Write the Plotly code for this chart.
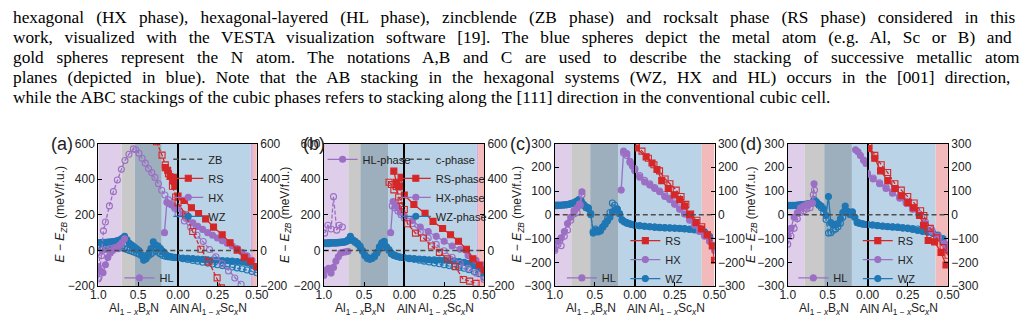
import plotly.graph_objects as go

# ---------------- data ----------------
PARAGRAPH = [
    "hexagonal (HX phase), hexagonal-layered (HL phase), zincblende (ZB phase) and rocksalt phase (RS phase) considered in this",
    "work, visualized with the VESTA visualization software [19]. The blue spheres depict the metal atom (e.g. Al, Sc or B) and",
    "gold spheres represent the N atom. The notations A,B and C are used to describe the stacking of successive metallic atom",
    "planes (depicted in blue). Note that the AB stacking in the hexagonal systems (WZ, HX and HL) occurs in the [001] direction,",
    "while the ABC stackings of the cubic phases refers to stacking along the [111] direction in the conventional cubic cell.",
]
PANEL_LABELS = ["(a)", "(b)", "(c)", "(d)"]
LEGEND_NAMES = [
    dict(ZB="ZB", RS="RS", HX="HX", WZ="WZ", HL="HL"),
    dict(ZB="c-phase", RS="RS-phase", HX="HX-phase", WZ="WZ-phase", HL="HL-phase"),
    dict(ZB=None, RS="RS", HX="HX", WZ="WZ", HL="HL"),
    dict(ZB=None, RS="RS", HX="HX", WZ="WZ", HL="HL"),
]
Y_RANGES = [[-200, 600], [-200, 600], [-300, 300], [-300, 300]]
Y_TICKS = [[-200, 0, 200, 400, 600], [-200, 0, 200, 400, 600],
           [-300, -200, -100, 0, 100, 200, 300], [-300, -200, -100, 0, 100, 200, 300]]
BN_TICKS = [1.0, 0.5, 0.0]
BN_TICKTEXT = ["1.0", "0.5", ""]
SC_TICKS = [0.0, 0.25, 0.5]
SC_TICKTEXT = ["0.00", "0.25", "0.50"]

# phase-region boundaries (left: B content, right: Sc content)
BANDS_L = [[0.706, 0.543, 0.204], [0.696, 0.547, 0.202], [0.793, 0.557, 0.203], [0.788, 0.543, 0.196]]
BANDS_R = [[0.461, 0.475], [0.453, 0.463], [0.42, 0.42], [0.423, 0.423]]

ZB_L_X = [1.0, 0.0]
ZB_R_X = [0.0, 0.5]
ZB_Y = [0, 0]

BN_X = [1.00, 0.97, 0.94, 0.91, 0.88, 0.85, 0.82, 0.79, 0.76, 0.73, 0.70, 0.67,
        0.64, 0.61, 0.58, 0.55, 0.52, 0.49, 0.46, 0.43, 0.40, 0.37, 0.34, 0.31,
        0.28, 0.25, 0.22, 0.19, 0.16, 0.13, 0.10, 0.07, 0.04, 0.00]
SC_X = [0.0, 0.031, 0.062, 0.094, 0.125, 0.156, 0.188, 0.219, 0.25, 0.281,
        0.312, 0.344, 0.375, 0.406, 0.438, 0.469, 0.5]

# ---- panel (a)
A_WZ_L = [45, 44, 45, 46, 47, 48, 50, 52, 55, 60, 68, 79, 60, 40, 30, 20, 10, 0, -29, -55, -47, -20,
          10, 48, 30, 25, 10, -5, -20, -30, -34, -37, -39, -41]
A_WZO_L = [30, 20, 15, 12, 10, 10, 12, 15, 18, 20, 15, 10, 5, 0, -5, -10, -15, -20, -25, -30, -35, -30,
           -20, -10, 0, -10, -20, -28, -32, -35, -37, -38, -40, -41]
A_WZ_R = [-41, -42, -44, -46, -48, -50, -52, -54, -55, -57, -58, -60, -62, -65, -70, -80, -95]
A_WZO_R = [-41, -46, -51, -56, -61, -66, -71, -76, -80, -85, -89, -93, -98, -103, -110, -118, -125]
A_HX_L_X = [0.17, 0.14, 0.11, 0.08, 0.05, 0.02, 0.0]
A_HX_L = [100, 270, 262, 255, 248, 240, 235]
A_HX_R = [235, 205, 175, 155, 135, 118, 100, 85, 70, 55, 40, 25, 10, -10, -30, -55, -90]
A_HXO_L_X = [0.99, 0.96, 0.935, 0.91, 0.86, 0.81, 0.76, 0.71, 0.665, 0.615, 0.56, 0.53, 0.49,
             0.45, 0.41, 0.37, 0.33, 0.29, 0.245, 0.205, 0.165, 0.12, 0.08, 0.04, 0.0]
A_HXO_L = [-150, -30, 110, 160, 250, 330, 395, 455, 505, 540, 570, 565, 545, 517, 490, 460, 437,
           410, 374, 338, 311, 284, 258, 235, 205]
A_HXO_R_X = [0.0, 0.04, 0.08, 0.12, 0.16, 0.2, 0.24, 0.28, 0.32, 0.36, 0.4]
A_HXO_R = [205, 165, 130, 85, 50, 5, -35, -75, -115, -155, -190]
A_RS_L_X = [0.16, 0.13, 0.10, 0.07, 0.04, 0.02, 0.0]
A_RS_L = [465, 450, 415, 390, 360, 410, 305]
A_RS_R_X = [0.0, 0.04, 0.085, 0.13, 0.175, 0.225, 0.28, 0.33, 0.375, 0.42, 0.46, 0.5]
A_RS_R = [305, 280, 240, 207, 177, 131, 88, 43, 2, -38, -61, -90]
A_RSO_L_X = [0.27, 0.2, 0.16, 0.12, 0.07, 0.03, 0.0]
A_RSO_L = [610, 535, 480, 430, 360, 300, 267]
A_RSO_R_X = [0.0, 0.048, 0.093, 0.145, 0.196, 0.248, 0.275]
A_RSO_R = [267, 199, 106, 7, -64, -154, -210]
A_HL_X = [1.0, 0.97, 0.94, 0.91, 0.88, 0.85, 0.82, 0.79, 0.76, 0.73, 0.70, 0.67]
A_HL = [-90, -115, -125, -80, -40, -15, 0, 10, 20, 30, 45, 65]
A_HLO_X = [1.0, 0.98, 0.95, 0.9, 0.85, 0.8, 0.75]
A_HLO = [-160, -10, 0, 5, 10, 15, 10]

# ---- panel (b)
B_WZ_L = [43, 43, 44, 44, 45, 45, 46, 47, 48, 50, 60, 79, 60, 52, 40, 25, 0, -25, -38, -46, -41, -30,
          -10, 20, 43, 52, 16, 0, -20, -28, -33, -36, -39, -41]
B_WZO_L = [38, 38, 38, 40, 40, 40, 42, 44, 45, 48, 55, 65, 55, 45, 35, 20, -5, -30, -45, -50, -45, -35,
           -15, 10, 30, 40, 20, 5, -15, -25, -30, -35, -38, -41]
B_WZ_R = [-41, -44, -46, -48, -50, -52, -53, -54, -55, -57, -58, -62, -66, -72, -85, -100, -125]
B_WZO_R = [-41, -46, -50, -55, -60, -65, -70, -75, -80, -85, -90, -95, -100, -108, -118, -130, -150]
B_HL_X = [1.0, 0.97, 0.94, 0.91, 0.88, 0.85, 0.82, 0.79, 0.76, 0.73, 0.70]
B_HL = [-140, -110, -100, -127, -95, -60, -35, -15, -10, -8, -5]
B_HLO_X = [0.99, 0.95, 0.91, 0.88, 0.84, 0.81, 0.77]
B_HLO = [97, 141, 120, 302, 114, 141, 132]
B_RS_L_X = [0.13, 0.10, 0.07, 0.04, 0.02, 0.0]
B_RS_L = [445, 383, 356, 410, 360, 311]
B_RS_R_X = [0.0, 0.06, 0.13, 0.18, 0.24, 0.29, 0.34, 0.39, 0.43, 0.47, 0.5]
B_RS_R = [311, 258, 208, 163, 123, 88, 52, 7, -47, -82, -110]
B_RSO_L_X = [0.19, 0.16, 0.13, 0.10, 0.07, 0.04, 0.02, 0.0]
B_RSO_L = [383, 370, 340, 360, 300, 280, 250, 230]
B_RSO_R_X = [0.0, 0.02, 0.07, 0.12, 0.17, 0.22, 0.27, 0.32, 0.37, 0.41, 0.45]
B_RSO_R = [230, 150, 97, 70, 25, -11, -47, -91, -163, -172, -185]
B_HX_L_X = [0.17, 0.14, 0.11, 0.08, 0.05, 0.0]
B_HX_L = [100, 275, 255, 240, 215, 195]
B_HX_R_X = [0.0, 0.05, 0.1, 0.15, 0.2, 0.25, 0.3, 0.35, 0.4, 0.45, 0.5]
B_HX_R = [195, 168, 132, 106, 79, 52, 25, 7, -29, -55, -82]
B_HXO_L_X = [0.15, 0.12, 0.08, 0.04, 0.0]
B_HXO_L = [250, 240, 222, 200, 180]
B_HXO_R = [180, 150, 105, 70, 34, -2, -38, -73, -100, -127, -163]

# ---- panel (c)
C_WZ_L = [41, 41, 41, 41, 42, 43, 45, 48, 52, 57, 64, 60, 44, 35, 30, 5, -77, -65, -72, -68, -52, -40,
          -25, -10, 12, 20, 23, 3, -23, -30, -35, -38, -41, -44]
C_WZO_L = [38, 38, 39, 40, 41, 42, 44, 46, 50, 55, 60, 55, 40, 30, 25, 0, -70, -60, -68, -65, -50, -35,
           -15, 10, 50, 40, 25, 5, -20, -28, -33, -37, -40, -44]
C_WZ_R = [-44, -46, -48, -50, -52, -53, -54, -55, -56, -57, -58, -60, -62, -65, -72, -90, -130]
C_WZO_R = [-44, -46, -48, -50, -52, -54, -55, -56, -57, -58, -60, -62, -64, -68, -75, -95, -135]
C_HL_X = [1.0, 0.96, 0.92, 0.88, 0.84, 0.8, 0.76, 0.72, 0.69, 0.66]
C_HL = [-144, -110, -97, -70, -37, -10, 17, 30, 45, 97]
C_HLO_X = [1.0, 0.96, 0.92, 0.88, 0.84, 0.8, 0.76, 0.72, 0.68, 0.66]
C_HLO = [-150, -125, -130, -90, -64, -23, 3, 10, 40, 84]
C_HX_L_X = [0.17, 0.14, 0.10, 0.06, 0.03, 0.0]
C_HX_L = [104, 268, 258, 225, 210, 191]
C_HXO_L_X = [0.14, 0.10, 0.06, 0.03, 0.0]
C_HXO_L = [260, 250, 220, 205, 185]
C_HX_R = [191, 158, 138, 125, 111, 97, 77, 64, 44, 23, 3, -23, -44, -70, -90, -111, -150]
C_HXO_R = [195, 165, 145, 130, 115, 100, 85, 70, 50, 30, 10, -15, -40, -60, -85, -110, -140]
C_RS_X = [0.01, 0.071, 0.108, 0.139, 0.169, 0.21, 0.247, 0.282, 0.312, 0.343, 0.384, 0.418, 0.455, 0.486, 0.5]
C_RS = [281, 244, 218, 191, 144, 111, 84, 64, 37, 0, -33, -60, -84, -131, -191]
C_RSO_X = [0.01, 0.045, 0.085, 0.12, 0.155, 0.19, 0.22, 0.26, 0.29, 0.32, 0.35, 0.39, 0.42, 0.455, 0.485]
C_RSO = [289, 268, 238, 211, 185, 151, 131, 104, 77, 44, 3, -23, -50, -84, -111]

# ---- panel (d)
D_WZ_L = [40, 40, 40, 40, 41, 42, 43, 44, 45, 47, 50, 64, 55, 44, 37, 25, -3, 77, -33, -44, -40, -37,
          -17, 10, 37, 15, 3, 13, -10, -33, -36, -38, -40, -41]
D_WZO_L = [38, 38, 38, 39, 40, 41, 42, 43, 44, 46, 48, 60, 50, 40, 30, 10, -20, -77, -75, -65, -60, -50,
           -35, -10, 20, 10, 0, 10, -10, -30, -35, -38, -40, -41]
D_WZ_R = [-41, -43, -45, -47, -49, -50, -52, -55, -58, -62, -66, -70, -73, -77, -85, -100, -140]
D_WZO_R = [-41, -43, -46, -48, -50, -52, -53, -55, -56, -58, -60, -63, -70, -78, -90, -110, -145]
D_HL_X = [1.0, 0.96, 0.92, 0.88, 0.84, 0.8, 0.76, 0.72, 0.69, 0.67]
D_HL = [-84, -57, -10, 10, 30, 37, 44, 47, 50, 131]
D_HLO_X = [1.0, 0.96, 0.92, 0.88, 0.84, 0.8, 0.76, 0.72, 0.68, 0.665]
D_HLO = [-124, -90, -57, -17, 10, 17, 25, 30, 84, 104]
D_HX_L_X = [0.15, 0.12, 0.09, 0.05, 0.02]
D_HX_L = [274, 265, 250, 230, 216]
D_HX_R_X = [0.0, 0.035, 0.075, 0.115, 0.155, 0.2, 0.24, 0.28, 0.32, 0.36, 0.4, 0.44, 0.48, 0.5]
D_HX_R = [171, 151, 131, 111, 91, 70, 50, 23, -3, -37, -70, -97, -124, -150]
D_HXO_R = [175, 155, 135, 117, 97, 77, 57, 30, 5, -30, -63, -90, -120, -140]
D_RS_X = [0.008, 0.045, 0.081, 0.126, 0.17, 0.21, 0.251, 0.287, 0.324, 0.348, 0.377, 0.417, 0.457, 0.488]
D_RS = [279, 238, 185, 144, 111, 80, 50, 30, -3, -44, -108, -114, -158, -211]
D_RSO_X = [0.008, 0.045, 0.085, 0.125, 0.17, 0.21, 0.25, 0.29, 0.33, 0.35, 0.39, 0.43, 0.47, 0.5]
D_RSO = [289, 250, 211, 178, 131, 104, 77, 50, 17, -3, -57, -97, -138, -170]

# series per panel: (phase, side, filled, x, y)
PANELS = [
    [("WZ", "L", True, BN_X, A_WZ_L), ("WZ", "L", False, BN_X, A_WZO_L),
     ("WZ", "R", True, SC_X, A_WZ_R), ("WZ", "R", False, SC_X, A_WZO_R),
     ("HX", "L", False, A_HXO_L_X, A_HXO_L), ("HX", "R", False, A_HXO_R_X, A_HXO_R),
     ("HX", "L", True, A_HX_L_X, A_HX_L), ("HX", "R", True, SC_X, A_HX_R),
     ("HL", "L", False, A_HLO_X, A_HLO), ("HL", "L", True, A_HL_X, A_HL),
     ("RS", "L", False, A_RSO_L_X, A_RSO_L), ("RS", "R", False, A_RSO_R_X, A_RSO_R),
     ("RS", "L", True, A_RS_L_X, A_RS_L), ("RS", "R", True, A_RS_R_X, A_RS_R)],
    [("WZ", "L", True, BN_X, B_WZ_L), ("WZ", "L", False, BN_X, B_WZO_L),
     ("WZ", "R", True, SC_X, B_WZ_R), ("WZ", "R", False, SC_X, B_WZO_R),
     ("HX", "L", False, B_HXO_L_X, B_HXO_L), ("HX", "R", False, B_HX_R_X, B_HXO_R),
     ("HX", "L", True, B_HX_L_X, B_HX_L), ("HX", "R", True, B_HX_R_X, B_HX_R),
     ("HL", "L", False, B_HLO_X, B_HLO), ("HL", "L", True, B_HL_X, B_HL),
     ("RS", "L", False, B_RSO_L_X, B_RSO_L), ("RS", "R", False, B_RSO_R_X, B_RSO_R),
     ("RS", "L", True, B_RS_L_X, B_RS_L), ("RS", "R", True, B_RS_R_X, B_RS_R)],
    [("WZ", "L", True, BN_X, C_WZ_L), ("WZ", "L", False, BN_X, C_WZO_L),
     ("WZ", "R", True, SC_X, C_WZ_R), ("WZ", "R", False, SC_X, C_WZO_R),
     ("HX", "L", False, C_HXO_L_X, C_HXO_L), ("HX", "R", False, SC_X, C_HXO_R),
     ("HX", "L", True, C_HX_L_X, C_HX_L), ("HX", "R", True, SC_X, C_HX_R),
     ("HL", "L", False, C_HLO_X, C_HLO), ("HL", "L", True, C_HL_X, C_HL),
     ("RS", "R", False, C_RSO_X, C_RSO), ("RS", "R", True, C_RS_X, C_RS)],
    [("WZ", "L", True, BN_X, D_WZ_L), ("WZ", "L", False, BN_X, D_WZO_L),
     ("WZ", "R", True, SC_X, D_WZ_R), ("WZ", "R", False, SC_X, D_WZO_R),
     ("HX", "R", False, D_HX_R_X, D_HXO_R),
     ("HX", "L", True, D_HX_L_X, D_HX_L), ("HX", "R", True, D_HX_R_X, D_HX_R),
     ("HL", "L", False, D_HLO_X, D_HLO), ("HL", "L", True, D_HL_X, D_HL),
     ("RS", "R", False, D_RSO_X, D_RSO), ("RS", "R", True, D_RS_X, D_RS)],
]

# ---------------- styling / layout ----------------
W, H = 1028, 324
SANS = "Liberation Sans, Arial, sans-serif"
SERIF = "Liberation Serif, Times New Roman, serif"
TEXT_SIZE = 17.3
WORD_SPACING = [7.8, 7.35, 8.4, 5.95, 0.0]   # px, emulating justified lines
TEXT_Y = [10.5, 31.5, 52.5, 73.5, 94.5]
COL = dict(RS="#d62728", HX="#9b6fc4", WZ="#1f77b4", HL="#9b6fc4")
SYM = dict(RS="square", HX="circle", WZ="circle", HL="circle")
BAND_COL_L = ["rgb(222,206,233)", "rgb(201,201,201)", "rgb(157,174,188)", "rgb(186,211,230)"]
BAND_COL_R = ["rgb(186,211,230)", "rgb(205,175,225)", "rgb(242,186,186)"]

P_LEFT = [88.3, 319.3, 555.7, 794.3]
P_MID = [170.0, 401.7, 637.7, 876.0]
P_RIGHT = [250.7, 483.3, 719.3, 958.3]
P_TOP, P_BOT = 142.7, 291.7
YDOM = [1 - P_BOT / H, 1 - P_TOP / H]

# legend boxes (left px, top px) for main and HL legends
LEG_MAIN = [(160, 144), (393, 144), (628, 229), (866, 229)]
LEG_HL = [(110, 268), (318, 144), (563, 268), (800, 268)]
YTITLE_X = [50, 280, 518, 757]
PLABEL_X = [51, 309, 521, 757]
XTITLE_Y = 316


def axname(kind, n):
    return kind if n == 1 else f"{kind}{n}"


def note(text, x, y, size, family=SANS, **kw):
    return dict(text=text, xref="paper", yref="paper", x=x / W, y=1 - y / H, showarrow=False,
                xanchor=kw.pop("xanchor", "center"), yanchor=kw.pop("yanchor", "middle"),
                font=dict(family=family, size=size, color=kw.pop("color", "#222")), **kw)


fig = go.Figure()
layout = dict(width=W, height=H, margin=dict(l=0, r=0, t=0, b=0),
              paper_bgcolor="white", plot_bgcolor="rgba(0,0,0,0)",
              showlegend=True, font=dict(family=SANS, size=12, color="#222"))
shapes, annotations = [], []

for i in range(4):
    nl, nr = 2 * i + 1, 2 * i + 2
    xl, xr, yl, yr = axname("x", nl), axname("x", nr), axname("y", nl), axname("y", nr)
    common = dict(showline=True, linecolor="black", linewidth=1, mirror=True, ticks="inside",
                  ticklen=4, tickcolor="black", showgrid=False, zeroline=False,
                  tickfont=dict(family=SANS, size=12, color="#222"))
    xcommon = dict(common, ticklabelstandoff=-2)
    layout[axname("xaxis", nl)] = dict(xcommon, domain=[P_LEFT[i] / W, P_MID[i] / W], range=[1.0, 0.0],
                                       anchor=yl, tickvals=BN_TICKS, ticktext=BN_TICKTEXT)
    layout[axname("xaxis", nr)] = dict(xcommon, domain=[P_MID[i] / W, P_RIGHT[i] / W], range=[0.0, 0.5],
                                       anchor=yr, tickvals=SC_TICKS, ticktext=SC_TICKTEXT)
    layout[axname("yaxis", nl)] = dict(common, domain=YDOM, range=Y_RANGES[i], anchor=xl, side="left",
                                       tickvals=Y_TICKS[i])
    layout[axname("yaxis", nr)] = dict(common, domain=YDOM, range=Y_RANGES[i], anchor=xr, side="right",
                                       tickvals=Y_TICKS[i])

    # background phase regions
    bl = [1.0] + BANDS_L[i] + [0.0]
    for k in range(4):
        shapes.append(dict(type="rect", xref=xl, yref=f"{yl} domain", x0=bl[k], x1=bl[k + 1], y0=0, y1=1,
                           fillcolor=BAND_COL_L[k], line=dict(width=0), layer="below"))
    br = [0.0] + BANDS_R[i] + [0.5]
    for k in range(3):
        shapes.append(dict(type="rect", xref=xr, yref=f"{yr} domain", x0=br[k], x1=br[k + 1], y0=0, y1=1,
                           fillcolor=BAND_COL_R[k], line=dict(width=0), layer="below"))

    main_leg = "legend" if i == 0 else f"legend{2 * i + 1}"
    hl_leg = f"legend{2 * i + 2}"
    names = LEGEND_NAMES[i]
    shown = set()
    for phase, side, filled, xs, ys in PANELS[i]:
        show = filled and phase not in shown and names[phase] is not None
        if show:
            shown.add(phase)
        fig.add_trace(go.Scatter(
            x=xs, y=ys, xaxis=xl if side == "L" else xr, yaxis=yl if side == "L" else yr,
            mode="lines+markers",
            line=dict(color=COL[phase], width=1.3, dash="solid" if filled else "4px,2px"),
            marker=dict(symbol=SYM[phase] if filled else SYM[phase] + "-open", size=6,
                        color=COL[phase], line=dict(width=1.1, color=COL[phase])),
            name=names[phase], showlegend=show,
            legend=hl_leg if phase == "HL" else main_leg,
            legendrank={"RS": 2, "HX": 3, "WZ": 4, "HL": 1}[phase]))
    # ZB reference (dashed zero line)
    fig.add_trace(go.Scatter(x=ZB_L_X, y=ZB_Y, xaxis=xl, yaxis=yl, mode="lines",
                             line=dict(color="#4d4d4d", width=1.5, dash="5px,3px"),
                             name=names["ZB"], showlegend=names["ZB"] is not None,
                             legend=main_leg, legendrank=1))
    fig.add_trace(go.Scatter(x=ZB_R_X, y=ZB_Y, xaxis=xr, yaxis=yr, mode="lines",
                             line=dict(color="#4d4d4d", width=1.5, dash="5px,3px"),
                             showlegend=False, legend=main_leg))

    legcommon = dict(xanchor="left", yanchor="top", bgcolor="rgba(0,0,0,0)", borderwidth=0,
                     font=dict(family=SANS, size=11, color="#222"), tracegroupgap=0, itemwidth=30)
    layout[main_leg] = dict(legcommon, x=LEG_MAIN[i][0] / W, y=1 - LEG_MAIN[i][1] / H)
    layout[hl_leg] = dict(legcommon, x=LEG_HL[i][0] / W, y=1 - LEG_HL[i][1] / H)

    # axis titles and panel label
    annotations.append(note("<i>E</i> − <i>E</i><sub><i>ZB</i></sub> (meV/f.u.)", YTITLE_X[i], 217, 12,
                            textangle=-90))
    annotations.append(note(PANEL_LABELS[i], PLABEL_X[i], 143, 18))
    annotations.append(note("Al<sub>1 − <i>x</i></sub>B<sub><i>x</i></sub>N",
                            (P_LEFT[i] + P_MID[i]) / 2 - 4, XTITLE_Y, 12))
    annotations.append(note("AlN", P_MID[i] + 2, XTITLE_Y, 12))
    annotations.append(note("Al<sub>1 − <i>x</i></sub>Sc<sub><i>x</i></sub>N",
                            (P_MID[i] + P_RIGHT[i]) / 2 + 2, XTITLE_Y, 12))

for t, yy, ws in zip(PARAGRAPH, TEXT_Y, WORD_SPACING):
    annotations.append(note(f'<span style="word-spacing:{ws}px">{t}</span>', 0, yy, TEXT_SIZE,
                            family=SERIF, xanchor="left", color="black", borderpad=0))

layout["shapes"] = shapes
layout["annotations"] = annotations
fig.update_layout(**layout)
fig.write_html("out.html")
